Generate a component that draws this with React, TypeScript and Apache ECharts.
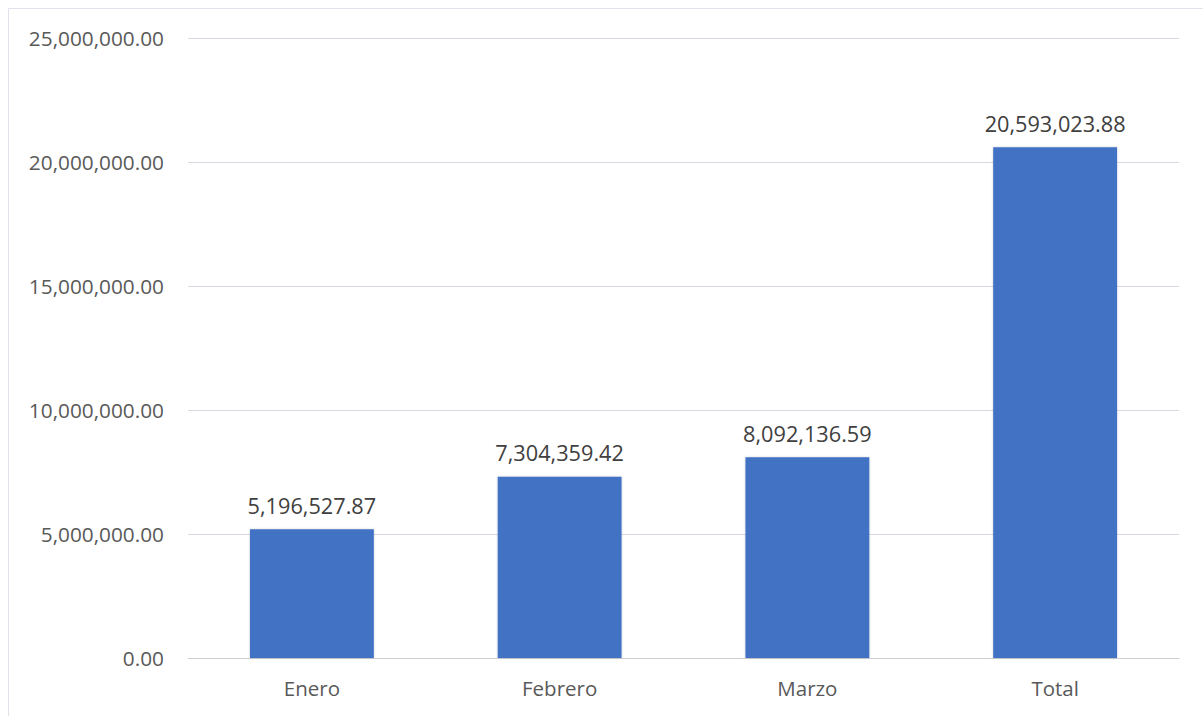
import React, { useEffect, useRef } from "react";
import * as echarts from "echarts";

const categories = ["Enero", "Febrero", "Marzo", "Total"];
const values = [5196527.87, 7304359.42, 8092136.59, 20593023.88];
const yMin = 0;
const yMax = 25000000;
const yInterval = 5000000;

const fmt = (v: number) =>
  v.toLocaleString("en-US", { minimumFractionDigits: 2, maximumFractionDigits: 2 });

export default function App() {
  const ref = useRef<HTMLDivElement>(null);
  useEffect(() => {
    document.body.style.margin = "0";
    const chart = echarts.init(ref.current!, undefined, { renderer: "svg" });
    chart.setOption({
      animation: false,
      backgroundColor: "#ffffff",
      textStyle: { fontFamily: "Open Sans" },
      graphic: [
        {
          type: "polyline",
          shape: { points: [[8.5, 716], [8.5, 8.5], [1203, 8.5]] },
          style: { stroke: "#e4e0ec", lineWidth: 1, fill: "none" },
          silent: true,
        },
      ],
      grid: { left: 188, right: 24, top: 38, bottom: 58, containLabel: false },
      xAxis: {
        type: "category",
        data: categories,
        axisTick: { show: false },
        axisLine: { lineStyle: { color: "#cfcfd6", width: 1 } },
        axisLabel: { color: "#595959", fontSize: 20.5, margin: 19, fontFamily: "Open Sans" },
      },
      yAxis: {
        type: "value",
        min: yMin,
        max: yMax,
        interval: yInterval,
        axisLine: { show: false },
        axisTick: { show: false },
        splitLine: { lineStyle: { color: "#d9d8e2", width: 1 } },
        axisLabel: {
          color: "#595959",
          fontSize: 20.8,
          margin: 24,
          fontFamily: "Open Sans",
          formatter: (v: number) => fmt(v),
        },
      },
      series: [
        {
          type: "bar",
          data: values,
          barWidth: "50%",
          itemStyle: {
            color: "#4372C4",
            shadowColor: "rgba(0,0,0,0.2)",
            shadowBlur: 2,
          },
          label: {
            show: true,
            position: "top",
            distance: 13,
            color: "#404040",
            fontSize: 21.7,
            fontFamily: "Open Sans",
            formatter: (p: any) => fmt(p.value),
          },
        },
      ],
    });
    return () => chart.dispose();
  }, []);
  return (
    <div
      ref={ref}
      style={{ position: "absolute", left: 0, top: 0, width: 1203, height: 716 }}
    />
  );
}
